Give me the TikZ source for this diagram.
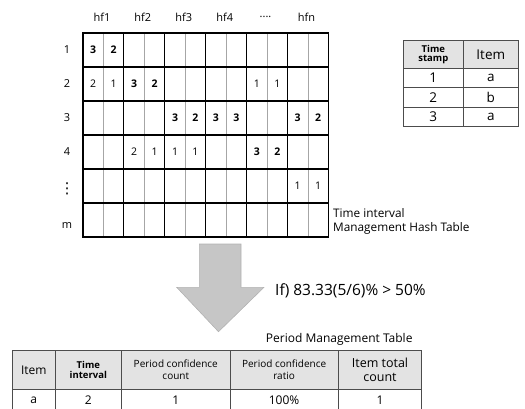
\documentclass[tikz,border=0pt]{standalone}
\usepackage{fontspec}
\setmainfont{Open Sans}
\newfontfamily\symfont{DejaVu Sans}
\newcommand\hfdots{....}
\begin{document}
\begin{tikzpicture}[x=1pt,y=-1pt,
  txt/.style={inner sep=0pt,font=\fontsize{11}{13}\selectfont},
  cellnum/.style={inner sep=0pt,font=\fontsize{10.5}{12}\selectfont},
  cellbold/.style={inner sep=0pt,font=\fontsize{10.5}{12}\selectfont\bfseries},
  thickrule/.style={line width=1.1pt,black},
  thinrule/.style={line width=0.6pt,gray!70},
  tabrule/.style={line width=0.8pt,black!70},
  headfill/.style={fill=gray!22},
  smallbold/.style={inner sep=0pt,align=center,font=\fontsize{9.5}{10.5}\selectfont\bfseries},
  smallnorm/.style={inner sep=0pt,align=center,font=\fontsize{10}{12}\selectfont},
  midnorm/.style={inner sep=0pt,align=center,font=\fontsize{12}{14}\selectfont},
  bignorm/.style={inner sep=0pt,align=center,font=\fontsize{13.5}{15}\selectfont},
  bigarrow/.style={fill=gray!45,draw=gray!60,line width=0.6pt}
]
\clip (0,0) rectangle (525,408);
\useasboundingbox (0,0) rectangle (525,408);

% ---------- hash table grid ----------
\def\gx{83}\def\cw{20.45}\def\gy{33}\def\rh{34}
\foreach \c in {1,3,5,7,9,11}
  \draw[thinrule] (\gx+\c*\cw,\gy) -- (\gx+\c*\cw,\gy+6*\rh);
\foreach \c in {2,4,6,8,10}
  \draw[thickrule] (\gx+\c*\cw,\gy) -- (\gx+\c*\cw,\gy+6*\rh);
\foreach \r in {1,2,3,4,5}
  \draw[thickrule] (\gx,\gy+\r*\rh) -- (\gx+12*\cw,\gy+\r*\rh);
\draw[line width=1.2pt] (\gx,\gy) rectangle (\gx+12*\cw,\gy+6*\rh);

% column headers
\foreach \l [count=\i] in {hf1,hf2,hf3,hf4,\hfdots,hfn}
  \node[txt] (hf\i) at (\gx+2*\i*\cw-\cw-1.5,17) {\l};

% row labels
\foreach \l [count=\i] in {1,2,3,4}
  \node[txt] (row\i) at (67,\gy+\i*\rh-\rh/2) {\l};
\node[txt,font=\symfont\fontsize{15}{16}\selectfont] (row5) at (67,189) {⋮};
\node[txt] (row6) at (67,225) {m};

% cell values: row/column/value
\foreach \r/\c/\v in {1/1/3,1/2/2,2/3/3,2/4/2,3/5/3,3/6/2,3/7/3,3/8/3,3/11/3,3/12/2,4/9/3,4/10/2}
  \node[cellbold] (cell-\r-\c) at (\gx+\c*\cw-\cw/2,\gy+\r*\rh-\rh/2) {\v};
\foreach \r/\c/\v in {2/1/2,2/2/1,2/9/1,2/10/1,4/3/2,4/4/1,4/5/1,4/6/1,5/11/1,5/12/1}
  \node[cellnum] (cell-\r-\c) at (\gx+\c*\cw-\cw/2,\gy+\r*\rh-\rh/2) {\v};

\node[txt,anchor=west,align=left,font=\fontsize{11.8}{14.5}\selectfont] (hashname) at (333,221.5) {Time interval\\Management Hash Table};

% ---------- time stamp table ----------
\fill[headfill] (403.3,40.7) rectangle (518.3,68.3);
\foreach \y in {68.3,87.3,107.3}
  \draw[tabrule] (403.3,\y) -- (518.3,\y);
\draw[tabrule] (463.3,40.7) -- (463.3,126.7);
\draw[tabrule] (403.3,40.7) rectangle (518.3,126.7);
\node[smallbold,font=\fontsize{9.5}{9.5}\selectfont\bfseries] (tsh) at (433.3,54.5) {Time\\stamp};
\node[bignorm] (ith) at (490.8,54.5) {Item};
\foreach \t/\v/\y in {1/a/77.8,2/b/97.3,3/a/117}{
  \node[bignorm] (ts\t) at (433.3,\y) {\t};
  \node[bignorm] (it\t) at (490.8,\y) {\v};
}

% ---------- arrow and condition ----------
\fill[bigarrow] (199.3,244) -- (241,244) -- (241,287.3) -- (264,287.3)
  -- (218.5,331.7) -- (176.7,287.3) -- (199.3,287.3) -- cycle;
\node[txt,anchor=west,font=\fontsize{15.5}{17}\selectfont] (cond) at (275,291) {If) 83.33(5/6)\% > 50\%};

% ---------- period management table ----------
\node[txt,anchor=east,font=\fontsize{12}{14}\selectfont] (pmt) at (412.7,339) {Period Management Table};
\fill[headfill] (12.7,350.7) rectangle (421.7,389);
\draw[tabrule] (12.7,389) -- (421.7,389);
\foreach \x in {55,121.7,230,338.3}
  \draw[tabrule] (\x,350.7) -- (\x,420);
\draw[tabrule] (12.7,420) -- (12.7,350.7) -- (421.7,350.7) -- (421.7,420);
\node[midnorm] (h1) at (33.8,370) {Item};
\node[smallbold] (h2) at (88.3,370) {Time\\interval};
\node[smallnorm] (h3) at (175.8,370) {Period confidence\\count};
\node[smallnorm] (h4) at (284.1,370) {Period confidence\\ratio};
\node[midnorm,font=\fontsize{12.5}{14}\selectfont] (h5) at (380,370) {Item total\\count};
\node[midnorm] (d1) at (33.8,400) {a};
\node[midnorm] (d2) at (88.3,400) {2};
\node[midnorm] (d3) at (175.8,400) {1};
\node[midnorm] (d4) at (284.1,400) {100\%};
\node[midnorm] (d5) at (380,400) {1};
\end{tikzpicture}
\end{document}
